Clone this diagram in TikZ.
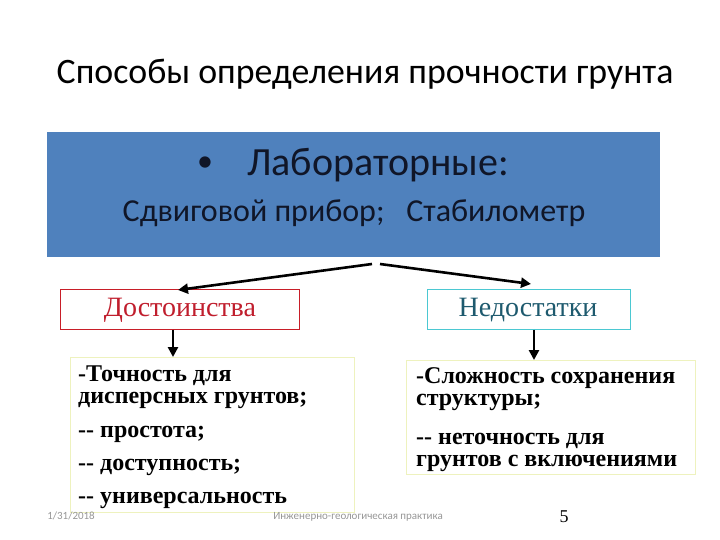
\documentclass[tikz,border=0pt]{standalone}
\usepackage{fontspec}
\setmainfont{Liberation Serif}
\newfontfamily\calib{Carlito}
\usetikzlibrary{arrows.meta}
\definecolor{bluebox}{RGB}{79,129,189}
\definecolor{navytext}{RGB}{16,22,40}
\definecolor{redb}{RGB}{200,30,40}
\definecolor{redt}{RGB}{192,30,45}
\definecolor{cyanb}{RGB}{75,200,210}
\definecolor{tealt}{RGB}{30,90,110}
\definecolor{yelb}{RGB}{238,242,190}
\definecolor{foot}{RGB}{150,150,150}
\tikzset{
  box/.style={draw, line width=0.8pt, inner sep=0pt, anchor=north west},
  arr/.style={line width=2.6pt, -{Triangle[length=10pt,width=10pt]}},
  listtxt/.style={anchor=base west, inner sep=0pt, align=left, font=\fontsize{24}{21.5}\selectfont\bfseries},
  foottxt/.style={font=\calib\fontsize{11}{13}\selectfont, text=foot, inner sep=0pt}
}
\begin{document}
\begin{tikzpicture}[x=1pt,y=-1pt]
\useasboundingbox (0,0) rectangle (720,540);
\node[font=\calib\fontsize{35.8}{38}\selectfont, anchor=base, inner sep=0pt] (title) at (365,84) {Способы определения прочности грунта};
\node[fill=bluebox, inner sep=0pt, minimum width=613pt, minimum height=125pt, anchor=north west] (lab) at (47,132) {};
\node[font=\calib\fontsize{32}{34}\selectfont, text=navytext, anchor=base, inner sep=0pt] (bul) at (205,172) {•};
\node[font=\calib\fontsize{40}{44}\selectfont, text=navytext, anchor=base west, inner sep=0pt] (labt) at (247,176) {Лабораторные:};
\node[font=\calib\fontsize{32}{34}\selectfont, text=navytext, anchor=base, inner sep=0pt] (dev) at (354,222) {Сдвиговой прибор;\ \ \ Стабилометр};
\coordinate (sl) at (372,264);
\coordinate (sr) at (380,264);
\node[box, draw=redb, minimum width=239pt, minimum height=40pt] (adv) at (60,289) {};
\node[font=\fontsize{28}{30}\selectfont, text=redt, inner sep=0pt] (advt) at (180,310) {Достоинства};
\node[box, draw=cyanb, minimum width=203pt, minimum height=40pt] (dis) at (427,289) {};
\node[font=\fontsize{28}{30}\selectfont, text=tealt, inner sep=0pt] (dist) at (528,310) {Недостатки};
\coordinate (al) at (178,290);
\coordinate (ar) at (531,284);
\draw[arr] (sl) -- (al);
\draw[arr] (sr) -- (ar);
\node[box, draw=yelb, minimum width=284pt, minimum height=155pt] (advl) at (70,357) {};
\node[box, draw=yelb, minimum width=289pt, minimum height=114pt] (disl) at (406,360) {};
\draw[arr] (adv.south -| 173,0) -- (advl.north -| 173,0);
\draw[arr] (dis.south -| 534,0) -- (disl.north -| 534,0);
\node[listtxt] (a1) at (78,403) {-Точность для\\дисперсных грунтов;};
\node[listtxt] (a3) at (78,437) {-{}- простота;};
\node[listtxt] (a4) at (78,470) {-{}- доступность;};
\node[listtxt] (a5) at (78,503) {-{}- универсальность};
\node[listtxt] (b1) at (416,405) {-Сложность сохранения\\структуры;};
\node[listtxt] (b3) at (416,466) {-{}- неточность для\\грунтов с включениями};
\node[foottxt, anchor=base east] (date) at (95,519) {1/31/2018};
\node[foottxt, anchor=base] (prac) at (358,519) {Инженерно-геологическая практика};
\node[font=\fontsize{18}{20}\selectfont, anchor=base, inner sep=0pt] (num) at (564,522) {5};
\end{tikzpicture}
\end{document}
